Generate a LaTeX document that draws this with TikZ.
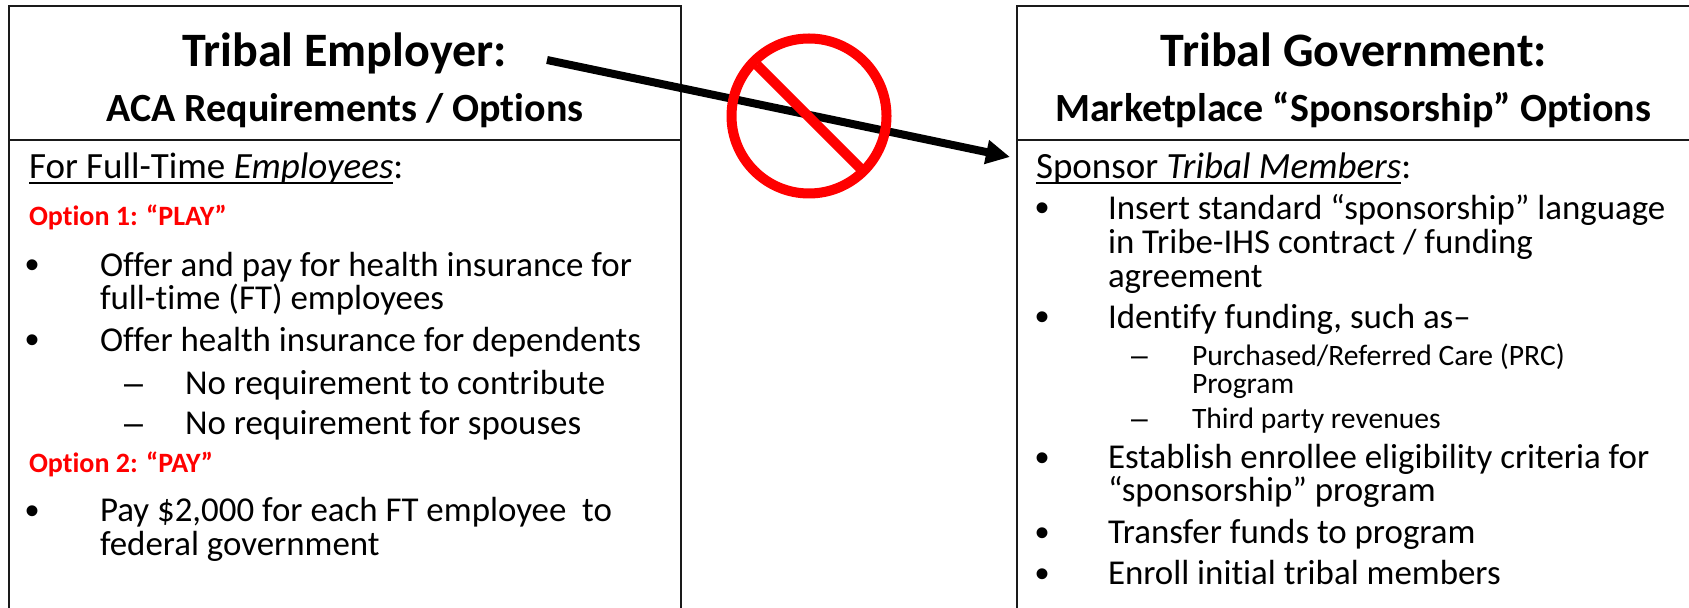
\documentclass[tikz,border=0pt]{standalone}
\usepackage{fontspec}
\usetikzlibrary{arrows.meta}
\setmainfont[Ligatures={TeX,NoCommon}]{Carlito}
\newfontfamily\bulletfont{Liberation Sans}
\newcommand{\ulbase}[1]{\setbox0=\hbox{#1}\rlap{\rule[-3pt]{\wd0}{1.2pt}}\box0}
\definecolor{boxline}{HTML}{1A1A1A}
\tikzset{
  x=0.5pt,y=-0.5pt,
  txt/.style={anchor=base west,inner sep=0pt,outer sep=0pt,yshift=-0.75pt,font=\fontsize{17.45}{20}\selectfont},
  headtxt/.style={txt,font=\fontsize{18.5}{20}\selectfont},
  small/.style={txt,font=\fontsize{14.8}{16}\selectfont},
  title/.style={anchor=base,inner sep=0pt,outer sep=0pt,yshift=-1pt,font=\fontsize{24}{26}\selectfont\bfseries},
  subtitle/.style={anchor=base,inner sep=0pt,outer sep=0pt,yshift=-1pt,font=\fontsize{20}{22}\selectfont\bfseries},
  opt/.style={anchor=base west,inner sep=0pt,outer sep=0pt,yshift=-1pt,text=red,font=\fontsize{14}{16}\selectfont\bfseries},
  bul/.style={anchor=base,inner sep=0pt,outer sep=0pt,yshift=-2pt,font=\fontsize{20}{20}\selectfont\bulletfont},
  dsh/.style={anchor=base,inner sep=0pt,outer sep=0pt,yshift=-0.75pt,font=\fontsize{17}{17}\selectfont\bulletfont},
  sdsh/.style={dsh,font=\fontsize{15}{15}\selectfont\bulletfont},
  panel/.style={draw=boxline,line width=1pt},
  noentry/.style={draw=red,line width=5pt},
  bigarrow/.style={draw=black,line width=4pt,-{Triangle[length=12pt,width=11.5pt]}}
}
\begin{document}
\begin{tikzpicture}
\useasboundingbox (0,0) rectangle (1689,608);
\clip (0,0) rectangle (1689,608);
\fill[white] (0,0) rectangle (1689,608);
% panels
\coordinate (lnw) at (9,6); \coordinate (lse) at (681,640);
\coordinate (ldl) at (9,140); \coordinate (ldr) at (681,140);
\coordinate (rnw) at (1016.5,6); \coordinate (rse) at (1720,640);
\coordinate (rdl) at (1016.5,140); \coordinate (rdr) at (1720,140);
\draw[panel] (lnw) rectangle (lse);
\draw[panel] (ldl) -- (ldr);
\draw[panel] (rnw) rectangle (rse);
\draw[panel] (rdl) -- (rdr);
% left text
\node[title] (ltitle) at (344.5,65) {Tribal Employer:};
\node[subtitle] (lsub) at (345,120) {ACA Requirements / Options};
\node[headtxt] (lhead) at (29,177) {\ulbase{For Full-Time \textit{Employees}}:};
\node[opt] (opt1) at (29,224) {Option 1: “PLAY”};
\node[bul] (lb1) at (33,275) {•};
\node[txt] (l1a) at (100,275) {Offer and pay for health insurance for};
\node[txt] (l1b) at (100,308) {full-time (FT) employees};
\node[bul] (lb2) at (33,350) {•};
\node[txt] (l2) at (100,350) {Offer health insurance for dependents};
\node[dsh] (ld1) at (133.5,393) {–};
\node[txt] (l3) at (185,393) {No requirement to contribute};
\node[dsh] (ld2) at (133.5,433) {–};
\node[txt] (l4) at (185,433) {No requirement for spouses};
\node[opt] (opt2) at (29,471) {Option 2: “PAY”};
\node[bul] (lb3) at (33,520) {•};
\node[txt] (l5a) at (100,520) {Pay \$2,000 for each FT employee\ \ to};
\node[txt] (l5b) at (100,554) {federal government};
% right text
\node[title] (rtitle) at (1354,65) {Tribal Government:};
\node[subtitle] (rsub) at (1353,120) {Marketplace “Sponsorship” Options};
\node[headtxt] (rhead) at (1036,177) {\ulbase{Sponsor \textit{Tribal Members}}:};
\node[bul] (rb1) at (1042,218) {•};
\node[txt] (r1a) at (1108,218) {Insert standard “sponsorship” language};
\node[txt] (r1b) at (1108,252) {in Tribe-IHS contract / funding};
\node[txt] (r1c) at (1108,286) {agreement};
\node[bul] (rb2) at (1042,327) {•};
\node[txt] (r2) at (1108,327) {Identify funding, such as–};
\node[sdsh] (rd1) at (1139.5,364) {–};
\node[small] (r3a) at (1192,364) {Purchased/Referred Care (PRC)};
\node[small] (r3b) at (1192,392) {Program};
\node[sdsh] (rd2) at (1139.5,427) {–};
\node[small] (r4) at (1192,427) {Third party revenues};
\node[bul] (rb3) at (1042,467) {•};
\node[txt] (r5a) at (1108,467) {Establish enrollee eligibility criteria for};
\node[txt] (r5b) at (1108,500) {“sponsorship” program};
\node[bul] (rb4) at (1042,542) {•};
\node[txt] (r6) at (1108,542) {Transfer funds to program};
\node[bul] (rb5) at (1042,583) {•};
\node[txt] (r7) at (1108,583) {Enroll initial tribal members};
% arrow and no-entry sign
\coordinate (astart) at (547,60);
\coordinate (aend) at (1010,157);
\draw[bigarrow] (astart) -- (aend);
\coordinate (nocentre) at (809,116);
\coordinate (slasha) at (757,65);
\coordinate (slashb) at (860,168);
\draw[noentry] (slasha) -- (slashb);
\draw[noentry] (nocentre) circle [radius=77.5];
\end{tikzpicture}
\end{document}
